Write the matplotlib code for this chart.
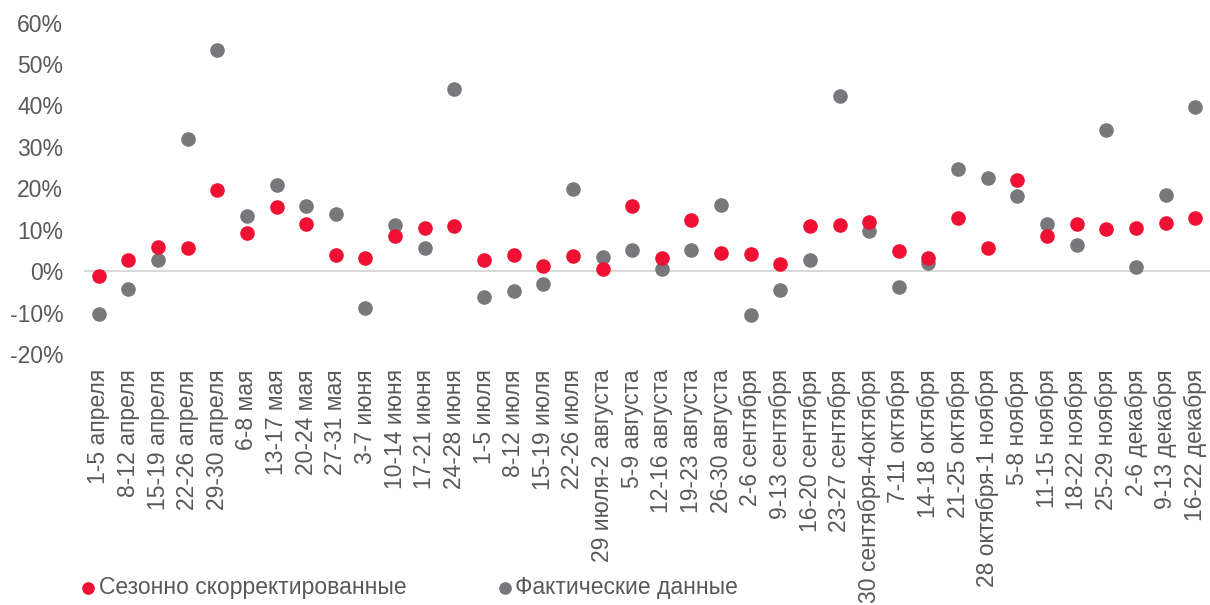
import matplotlib
matplotlib.use("Agg")
import matplotlib.pyplot as plt
from matplotlib.ticker import PercentFormatter

plt.rcParams["font.family"] = ["Liberation Sans", "DejaVu Sans"]
plt.rcParams["axes.unicode_minus"] = False

weeks = ["1-5 апреля", "8-12 апреля", "15-19 апреля", "22-26 апреля", "29-30 апреля",
         "6-8 мая", "13-17 мая", "20-24 мая", "27-31 мая",
         "3-7 июня", "10-14 июня", "17-21 июня", "24-28 июня",
         "1-5 июля", "8-12 июля", "15-19 июля", "22-26 июля", "29 июля-2 августа",
         "5-9 августа", "12-16 августа", "19-23 августа", "26-30 августа",
         "2-6 сентября", "9-13 сентября", "16-20 сентября", "23-27 сентября",
         "30 сентября-4октября", "7-11 октября", "14-18 октября", "21-25 октября",
         "28 октября-1 ноября", "5-8 ноября", "11-15 ноября", "18-22 ноября",
         "25-29 ноября", "2-6 декабря", "9-13 декабря", "16-22 декабря"]

# сезонно скорректированные, %
seasonal = [-1.3, 2.7, 5.9, 5.6, 19.5, 9.1, 15.4, 11.3, 3.8, 3.1, 8.4, 10.4, 11.0,
            2.8, 4.0, 1.2, 3.7, 0.6, 15.8, 3.1, 12.4, 4.3, 4.2, 1.8, 10.8, 11.2,
            11.8, 4.9, 3.2, 12.8, 5.5, 22.0, 8.5, 11.5, 10.1, 10.4, 11.7, 12.8]
# фактические данные, %
actual = [-10.4, -4.3, 2.7, 31.9, 53.4, 13.2, 20.7, 15.8, 13.8, -9.0, 11.2, 5.7, 44.0,
          -6.3, -4.7, -3.1, 19.8, 3.5, 5.2, 0.6, 5.1, 15.9, -10.7, -4.6, 2.6, 42.4,
          9.8, -3.9, 2.0, 24.6, 22.4, 18.1, 11.3, 6.2, 34.0, 1.0, 18.3, 39.6]

red = "#EE1133"
grey = "#77787B"
txt = "#595959"

fig = plt.figure(figsize=(12.1, 6.05), dpi=100)
ax = fig.add_axes([0.0694, 0.415, 0.9306, 0.5475])

x = range(len(weeks))
ax.axhline(0, color="#D9D9D9", lw=1.5, zorder=1)
ax.scatter(x, seasonal, s=90, color=red, zorder=3, label="Сезонно скорректированные")
ax.scatter(x, actual, s=90, color=grey, zorder=2, label="Фактические данные")

ax.set_xlim(-0.5, len(weeks) - 0.5)
ax.set_ylim(-20, 60)
ax.set_yticks(range(-20, 61, 10))
ax.yaxis.set_major_formatter(PercentFormatter(decimals=0))
ax.set_xticks(list(x))
ax.set_xticklabels(weeks, rotation=90)
ax.tick_params(axis="both", length=0, labelsize=16.5, colors=txt)
ax.tick_params(axis="y", pad=15)
ax.tick_params(axis="x", pad=11)
for s in ax.spines.values():
    s.set_visible(False)

fig.legend(loc="lower left", bbox_to_anchor=(0.055, -0.016), ncol=2, frameon=False,
           fontsize=16.5, labelcolor=txt, handlelength=0.5, handletextpad=0.2,
           columnspacing=4.05, markerscale=0.85, borderpad=0.2)

fig.savefig("out.png", dpi=100)
